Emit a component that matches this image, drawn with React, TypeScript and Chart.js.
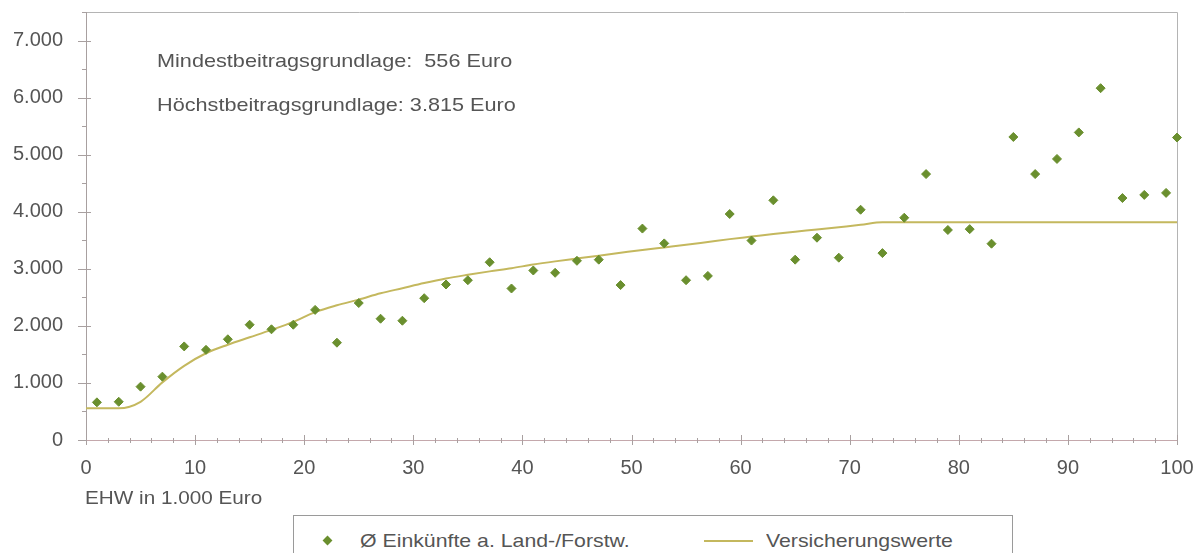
import React, { useEffect, useRef } from "react";
import { Chart, registerables } from "chart.js";

Chart.register(...registerables);

// EHW in 1.000 Euro (class midpoints)
const einkuenfteX = [1, 3, 5, 7, 9, 11, 13, 15, 17, 19, 21, 23, 25, 27, 29, 31, 33, 35, 37, 39, 41, 43, 45, 47, 49, 51, 53, 55, 57, 59, 61, 63, 65, 67, 69, 71, 73, 75, 77, 79, 81, 83, 85, 87, 89, 91, 93, 95, 97, 99, 100];
// Ø Einkünfte a. Land-/Forstw. (Euro)
const einkuenfteY = [660, 670, 935, 1110, 1640, 1580, 1765, 2020, 1940, 2020, 2280, 1705, 2400, 2125, 2090, 2485, 2725, 2800, 3115, 2655, 2970, 2930, 3140, 3160, 2715, 3705, 3445, 2800, 2875, 3960, 3495, 4200, 3160, 3545, 3195, 4035, 3275, 3895, 4660, 3680, 3695, 3440, 5310, 4660, 4925, 5390, 6165, 4240, 4295, 4330, 5300];

// Versicherungswerte
const versX = [0, 3, 5, 7, 9, 11, 13, 15, 17, 19, 21, 23, 25, 27, 29, 31, 33, 35, 37, 39, 41, 43, 45, 47, 49, 51, 53, 55, 57, 59, 61, 63, 65, 67, 69, 71, 73, 100];
const versY = [556, 556, 670, 1010, 1300, 1520, 1670, 1800, 1930, 2070, 2240, 2360, 2460, 2570, 2660, 2750, 2830, 2895, 2955, 3010, 3075, 3130, 3180, 3230, 3280, 3330, 3375, 3420, 3470, 3520, 3565, 3610, 3650, 3690, 3730, 3770, 3815, 3815];

const xTickValues = [0, 10, 20, 30, 40, 50, 60, 70, 80, 90, 100];
const yTickValues = [0, 1000, 2000, 3000, 4000, 5000, 6000, 7000];

const seriesNames = ["Ø Einkünfte a. Land-/Forstw.", "Versicherungswerte"];
const xAxisTitle = "EHW in 1.000 Euro";
const notes = ["Mindestbeitragsgrundlage:  556 Euro", "Höchstbeitragsgrundlage: 3.815 Euro"];

const POINT_COLOR = "#6a8f2e";
const LINE_COLOR = "#c4b85e";
const TEXT_COLOR = "#555555";
const FONT = '"Liberation Sans", Arial, sans-serif';

const fmt = (v: number) => String(v).replace(/\B(?=(\d{3})+(?!\d))/g, ".");

const framePlugin = {
  id: "frameAndTicks",
  beforeDatasetsDraw(chart: any) {
    const { ctx, chartArea } = chart;
    const xs = chart.scales.x;
    const ys = chart.scales.y;
    const { left, right, top, bottom } = chartArea;
    ctx.save();
    ctx.strokeStyle = "#b4b4b4";
    ctx.lineWidth = 1;
    ctx.beginPath();
    ctx.moveTo(left + 0.5, top + 0.5);
    ctx.lineTo(right + 0.5, top + 0.5);
    ctx.lineTo(right + 0.5, bottom + 0.5);
    ctx.stroke();
    ctx.strokeStyle = "#a8a0a0";
    ctx.beginPath();
    ctx.moveTo(left + 0.5, top + 0.5);
    ctx.lineTo(left + 0.5, bottom + 0.5);
    ctx.stroke();
    for (let v = 0; v <= 7500; v += 500) {
      const y = Math.round(ys.getPixelForValue(v)) + 0.5;
      const major = v % 1000 === 0;
      ctx.beginPath();
      ctx.moveTo(left - (major ? 8 : 4), y);
      ctx.lineTo(left + (major ? 5 : 1), y);
      ctx.stroke();
    }
    ctx.strokeStyle = "#c4a8ac";
    ctx.beginPath();
    ctx.moveTo(left, bottom + 0.5);
    ctx.lineTo(right + 1, bottom + 0.5);
    ctx.stroke();
    ctx.strokeStyle = "#a8a0a0";
    for (let v = 0; v <= 100; v += 2) {
      const x = Math.round(xs.getPixelForValue(v)) + 0.5;
      const major = v % 10 === 0;
      ctx.beginPath();
      ctx.moveTo(x, bottom - (major ? 5 : 2));
      ctx.lineTo(x, bottom + (major ? 5 : 3));
      ctx.stroke();
    }
    ctx.restore();
  },
};

export default function App() {
  const canvasRef = useRef<HTMLCanvasElement | null>(null);

  useEffect(() => {
    const canvas = canvasRef.current;
    if (!canvas) return;
    const chart = new Chart(canvas, {
      type: "scatter",
      data: {
        datasets: [
          {
            type: "scatter",
            label: seriesNames[0],
            data: einkuenfteX.map((x, i) => ({ x, y: einkuenfteY[i] })),
            pointStyle: "rectRot",
            pointRadius: 4.5,
            pointBorderWidth: 1,
            backgroundColor: POINT_COLOR,
            borderColor: POINT_COLOR,
            clip: false,
            order: 1,
          },
          {
            type: "line",
            label: seriesNames[1],
            data: versX.map((x, i) => ({ x, y: versY[i] })),
            showLine: true,
            borderColor: LINE_COLOR,
            borderWidth: 2,
            pointRadius: 0,
            cubicInterpolationMode: "monotone",
            fill: false,
            clip: false,
            order: 2,
          },
        ],
      } as any,
      options: {
        animation: false,
        responsive: false,
        layout: { padding: { top: 12, right: 20, left: 0, bottom: 0 } },
        plugins: {
          legend: { display: false },
          tooltip: { enabled: false },
        },
        scales: {
          x: {
            type: "linear",
            min: 0,
            max: 100,
            afterFit: (s: any) => {
              s.height = 113;
              s.paddingLeft = 0;
              s.paddingRight = 0;
            },
            afterBuildTicks: (s: any) => {
              s.ticks = xTickValues.map((value) => ({ value }));
            },
            grid: { display: false, drawTicks: false },
            border: { display: false },
            ticks: {
              padding: 16,
              color: TEXT_COLOR,
              font: { family: FONT, size: 20 },
              callback: (v: any) => String(v),
            },
          },
          y: {
            type: "linear",
            min: 0,
            max: 7500,
            afterFit: (s: any) => {
              s.width = 86;
              s.paddingTop = 0;
              s.paddingBottom = 0;
            },
            afterBuildTicks: (s: any) => {
              s.ticks = yTickValues.map((value) => ({ value }));
            },
            grid: { display: false, drawTicks: false },
            border: { display: false },
            ticks: {
              padding: 23,
              color: TEXT_COLOR,
              font: { family: FONT, size: 20 },
              callback: (v: any) => fmt(Number(v)),
            },
          },
        },
      } as any,
      plugins: [framePlugin],
    });
    return () => chart.destroy();
  }, []);

  const textStyle: React.CSSProperties = {
    position: "absolute",
    fontFamily: FONT,
    fontSize: 19,
    color: TEXT_COLOR,
    whiteSpace: "pre",
    lineHeight: "20px",
    transformOrigin: "0 50%",
  };

  return (
    <div style={{ position: "absolute", left: 0, top: 0, width: 1197, height: 553, overflow: "hidden", background: "#fff" }}>
      <canvas ref={canvasRef} width={1197} height={553} style={{ display: "block" }} />
      <div style={{ ...textStyle, left: 157, top: 51, transform: "scaleX(1.14)" }}>{notes[0]}</div>
      <div style={{ ...textStyle, left: 157, top: 95, transform: "scaleX(1.14)" }}>{notes[1]}</div>
      <div style={{ ...textStyle, left: 85, top: 488, transform: "scaleX(1.09)" }}>{xAxisTitle}</div>
      <div
        style={{
          position: "absolute",
          left: 293,
          top: 515,
          width: 720,
          height: 60,
          border: "1px solid #9a9a9a",
          boxSizing: "border-box",
          background: "#fff",
        }}
      >
        <div
          style={{
            position: "absolute",
            left: 30,
            top: 21,
            width: 7,
            height: 7,
            background: POINT_COLOR,
            transform: "rotate(45deg)",
          }}
        />
        <div style={{ ...textStyle, left: 66, top: 15, transform: "scaleX(1.12)" }}>{seriesNames[0]}</div>
        <div
          style={{
            position: "absolute",
            left: 410,
            top: 24,
            width: 49,
            height: 2,
            background: LINE_COLOR,
          }}
        />
        <div style={{ ...textStyle, left: 472, top: 15, transform: "scaleX(1.12)" }}>{seriesNames[1]}</div>
      </div>
    </div>
  );
}
